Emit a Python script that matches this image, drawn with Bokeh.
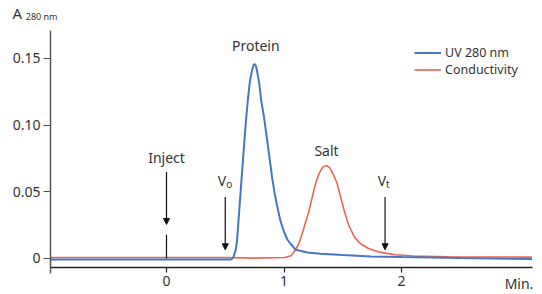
from bokeh.plotting import figure
from bokeh.models import (Range1d, FixedTicker, Arrow, NormalHead, Label, Legend,
                          LegendItem, LinearAxis)
from bokeh.embed import file_html
from bokeh.resources import INLINE

# ---- data ----
uv_x = [-0.99, 0.0, 0.5, 0.55, 0.57, 0.59, 0.60, 0.615, 0.635, 0.657, 0.675, 0.692, 0.71,
        0.73, 0.74, 0.75, 0.76, 0.77, 0.79, 0.806, 0.83, 0.85, 0.87, 0.885, 0.90, 0.92,
        0.94, 0.97, 1.00, 1.03, 1.055, 1.10, 1.20, 1.31, 1.50, 1.74, 2.00, 2.50, 3.11]
uv_y = [-0.0008, -0.0008, -0.0008, -0.0008, 0.001, 0.007, 0.013, 0.031, 0.055, 0.081, 0.102,
        0.1185, 0.133, 0.142, 0.145, 0.1458, 0.1445, 0.141, 0.131, 0.1185, 0.106, 0.093,
        0.080, 0.070, 0.060, 0.049, 0.040, 0.028, 0.020, 0.014, 0.011, 0.0065, 0.0045,
        0.0035, 0.0025, 0.0015, 0.001, 0.0003, -0.0005]

cond_x = [-0.99, 0.5, 0.75, 1.0, 1.02, 1.06, 1.098, 1.126, 1.16, 1.19, 1.211, 1.24, 1.268,
          1.30, 1.33, 1.362, 1.39, 1.42, 1.453, 1.485, 1.515, 1.55, 1.60, 1.651, 1.72,
          1.80, 1.86, 1.95, 2.10, 2.40, 3.11]
cond_y = [0.0007, 0.0007, 0.0002, 0.0007, 0.001, 0.002, 0.0065, 0.011, 0.020, 0.029, 0.035,
          0.046, 0.056, 0.064, 0.0685, 0.0698, 0.068, 0.063, 0.056, 0.045, 0.035, 0.025,
          0.016, 0.011, 0.0075, 0.005, 0.004, 0.0028, 0.0018, 0.0012, 0.001]

y_ticks = [0, 0.05, 0.10, 0.15]
y_tick_labels = ["0", "0.05", "0.10", "0.15"]
x_ticks = [0, 1, 2]

inject_t = 0.0
vo_t = 0.5
vt_t = 1.86

# axis extents (data units)
x_axis_start, x_axis_end = -0.987, 3.115
y_axis_start, y_axis_end = -0.0113, 0.171
x_axis_at = -0.0068

BLUE = "#4677c6"
RED = "#ee6450"
FONT = "Noto Sans"
TXT = "#333333"

p = figure(width=542, height=294, output_backend="svg", toolbar_location=None,
           x_range=Range1d(-1.4128, 3.2), y_range=Range1d(-0.02706, 0.19351),
           x_axis_type=None, y_axis_type=None,
           min_border_left=0, min_border_top=0, min_border_right=0, min_border_bottom=0)
p.outline_line_color = None
p.background_fill_color = "white"

r_cond = p.line(cond_x, cond_y, line_color=RED, line_width=1.6)
r_uv = p.line(uv_x, uv_y, line_color=BLUE, line_width=2)

# axes placed at fixed data locations
xaxis = LinearAxis(fixed_location=x_axis_at, bounds=(x_axis_start, x_axis_end),
                   ticker=FixedTicker(ticks=x_ticks))
xaxis.axis_line_color = "#222222"
xaxis.axis_line_width = 1.5
xaxis.major_tick_line_color = "#222222"
xaxis.major_tick_line_width = 1.2
xaxis.major_tick_out = 5
xaxis.major_tick_in = 0
xaxis.minor_tick_line_color = None
xaxis.major_label_text_font = FONT
xaxis.major_label_text_font_size = "14px"
xaxis.major_label_text_color = TXT
xaxis.major_label_standoff = 4
p.add_layout(xaxis, "below")

yaxis = LinearAxis(fixed_location=x_axis_start, bounds=(y_axis_start, y_axis_end),
                   ticker=FixedTicker(ticks=y_ticks))
yaxis.major_label_overrides = {t: l for t, l in zip(y_ticks, y_tick_labels)}
yaxis.axis_line_color = "#555555"
yaxis.axis_line_width = 1.5
yaxis.major_tick_line_color = "#555555"
yaxis.major_tick_line_width = 1.2
yaxis.major_tick_out = 7
yaxis.major_tick_in = 0
yaxis.minor_tick_line_color = None
yaxis.major_label_text_font = FONT
yaxis.major_label_text_font_size = "14px"
yaxis.major_label_text_color = TXT
yaxis.major_label_standoff = 3
p.add_layout(yaxis, "left")

def lab(text, x, y, size="14px", align="center", baseline="middle", xo=0, yo=0):
    l = Label(x=x, y=y, text=text, text_font=FONT, text_font_size=size, text_color=TXT,
              text_align=align, text_baseline=baseline, x_offset=xo, y_offset=yo)
    p.add_layout(l)
    return l

lab("Protein", 0.76, 0.1595)
lab("Salt", 1.362, 0.081)
lab("Inject", inject_t, 0.0755)
lab("V", vo_t, 0.0585, align="right", xo=1)
lab("o", vo_t, 0.0585, size="10px", align="left", xo=1, yo=-4)
lab("V", vt_t, 0.0585, align="right", xo=1)
lab("t", vt_t, 0.0585, size="10px", align="left", xo=1, yo=-4)
lab("Min.", 3.0, -0.0185)

# y-axis title "A 280 nm"
lab("A", -1.311, 0.1840, size="15px", align="left")
lab("280 nm", -1.198, 0.1818, size="9px", align="left")

# arrows
def arrow(x, y0, y1):
    p.add_layout(Arrow(end=NormalHead(size=6, fill_color="#111111", line_color="#111111"),
                       x_start=x, y_start=y0, x_end=x, y_end=y1,
                       line_color="#111111", line_width=1.2))

arrow(inject_t, 0.0648, 0.0255)
p.segment(x0=[inject_t], y0=[0.0178], x1=[inject_t], y1=[0.0], line_color="#111111", line_width=1.2)
arrow(vo_t, 0.046, 0.0065)
arrow(vt_t, 0.046, 0.0065)

legend = Legend(items=[LegendItem(label="UV 280 nm", renderers=[r_uv]),
                       LegendItem(label="Conductivity", renderers=[r_cond])],
                location=(414, 216), padding=0, margin=0, spacing=0,
                glyph_width=27, glyph_height=17, label_height=17, label_standoff=4,
                label_text_font=FONT, label_text_font_size="12.5px", label_text_color=TXT,
                border_line_alpha=0, background_fill_alpha=0)
p.add_layout(legend)

open("out.html", "w").write(file_html(p, INLINE))
